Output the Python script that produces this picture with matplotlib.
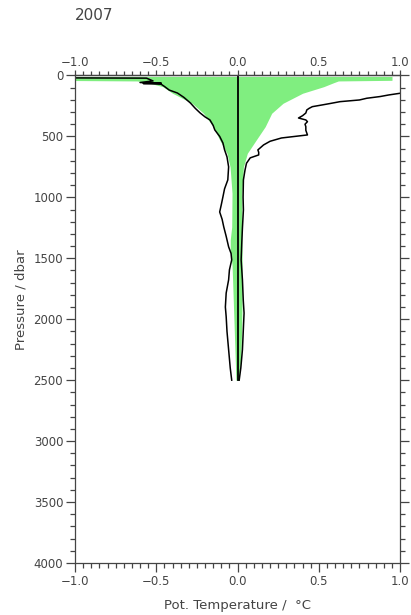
import matplotlib
matplotlib.use("Agg")
import matplotlib.pyplot as plt
from matplotlib.ticker import MultipleLocator, FixedLocator, FuncFormatter

# left (cold) profile: pressure (dbar) and temperature anomaly
left_p = [18, 22, 45, 58, 62, 66, 72, 90, 120, 144, 180, 226, 270, 308, 340, 365,
          410, 447, 500, 554, 610, 668, 750, 857, 930, 996, 1060, 1120, 1180, 1242,
          1320, 1406, 1460, 1513, 1595, 1677, 1785, 1900, 1980, 2100, 2250, 2400, 2500]
left_t = [-1.5, -0.56, -0.52, -0.60, -0.47, -0.58, -0.47, -0.45, -0.42, -0.37, -0.33,
          -0.29, -0.26, -0.23, -0.20, -0.17, -0.15, -0.14, -0.11, -0.09, -0.08, -0.065,
          -0.055, -0.06, -0.08, -0.09, -0.10, -0.11, -0.095, -0.085, -0.07, -0.055,
          -0.04, -0.036, -0.05, -0.055, -0.07, -0.075, -0.07, -0.065, -0.055, -0.045, -0.036]

# right (warm) profile
right_p = [120, 146, 160, 173, 187, 201, 215, 230, 242, 256, 270, 283, 308, 330, 349,
           365, 379, 400, 420, 450, 488, 513, 540, 570, 611, 630, 652, 676, 720, 775,
           857, 1000, 1103, 1250, 1373, 1513, 1677, 1841, 1950, 2100, 2250, 2400, 2500]
right_t = [1.3, 1.0, 0.93, 0.877, 0.795, 0.75, 0.63, 0.57, 0.52, 0.46, 0.44, 0.426,
           0.42, 0.40, 0.375, 0.42, 0.43, 0.415, 0.42, 0.42, 0.43, 0.27, 0.20, 0.16,
           0.125, 0.13, 0.13, 0.078, 0.055, 0.046, 0.036, 0.034, 0.036, 0.03, 0.026,
           0.022, 0.03, 0.035, 0.04, 0.035, 0.03, 0.02, 0.01]

# shaded range
band_p = [8, 40, 45, 60, 92, 146, 228, 310, 420, 529, 639, 750, 967, 1242, 1350,
          1450, 1550, 1700, 1900, 2100, 2300, 2500]
band_lo = [-1.2, -1.2, -0.62, -0.55, -0.46, -0.40, -0.28, -0.21, -0.15, -0.11, -0.065,
           -0.046, -0.034, -0.036, -0.045, -0.045, -0.034, -0.03, -0.025, -0.02, -0.015, -0.01]
band_hi = [0.95, 0.95, 0.62, 0.59, 0.53, 0.40, 0.28, 0.21, 0.17, 0.115, 0.06, 0.036,
           0.026, 0.026, 0.027, 0.028, 0.028, 0.028, 0.027, 0.025, 0.02, 0.01]

zero_p = [0, 2500]
zero_t = [0, 0]

x_ticks = [-1.0, -0.5, 0.0, 0.5, 1.0]

txt = '#444444'
fmt = FuncFormatter(lambda v, p: f'{v:.1f}'.replace('-', '\u2212'))

fig = plt.figure(figsize=(4.11, 6.15), dpi=100)
ax = fig.add_axes([0.1825, 0.0846, 0.791, 0.7927])

ax.fill_betweenx(band_p, band_lo, band_hi, color='#80ee80', lw=0)
ax.plot(zero_t, zero_p, color='black', lw=1.3)
ax.plot(left_t, left_p, color='black', lw=1.1)
ax.plot(right_t, right_p, color='black', lw=1.1)

ax.set_xlim(-1, 1)
ax.set_ylim(4000, 0)
ax.xaxis.set_major_locator(FixedLocator(x_ticks))
ax.xaxis.set_minor_locator(MultipleLocator(0.05))
ax.xaxis.set_major_formatter(fmt)
ax.yaxis.set_major_locator(MultipleLocator(500))
ax.yaxis.set_minor_locator(MultipleLocator(100))

ax.tick_params(which='both', direction='out', top=False, right=True,
               colors=txt, labelsize=8.5, width=0.9)
ax.tick_params(which='major', length=6.5, pad=2)
ax.tick_params(which='minor', length=3.5)
for s in ax.spines.values():
    s.set_color(txt)
    s.set_linewidth(0.9)

# top axis: short ticks, labels close to the frame
top = ax.secondary_xaxis('top')
top.xaxis.set_major_locator(FixedLocator(x_ticks))
top.xaxis.set_minor_locator(MultipleLocator(0.05))
top.xaxis.set_major_formatter(fmt)
top.tick_params(which='both', direction='out', colors=txt, labelsize=8.5, width=0.9)
top.tick_params(which='major', length=3.8, pad=0.5)
top.tick_params(which='minor', length=3)
top.spines['top'].set_color(txt)
top.spines['top'].set_linewidth(0.9)

ax.set_xlabel('Pot. Temperature /  °C', color=txt, fontsize=9.5, labelpad=8)
ax.set_ylabel('Pressure / dbar', color=txt, fontsize=9.5)
ax.yaxis.set_label_coords(-0.145, 0.54)

fig.text(75 / 411, 1 - 16 / 615, '2007', fontsize=11, color=txt, va='center')

fig.savefig('out.png', dpi=100)
